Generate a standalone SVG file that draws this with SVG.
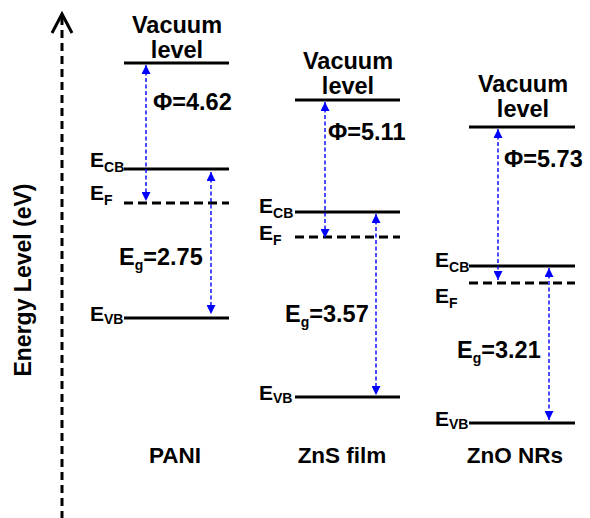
<svg xmlns="http://www.w3.org/2000/svg" width="590" height="518" viewBox="0 0 590 518">
<style>
text{font-family:"Liberation Sans",Arial,sans-serif;font-weight:bold;fill:#000}
.big{font-size:23.5px}
.name{font-size:22.5px}
.lbl{font-size:21px}
.sub{font-size:14px}
.lvl{stroke:#000;stroke-width:3;fill:none}
.fermi{stroke:#000;stroke-width:3;stroke-dasharray:9 5;fill:none}
.gap{stroke:#0000ff;stroke-width:1.4;stroke-dasharray:4 2.5;fill:none;marker-start:url(#ah);marker-end:url(#ah)}
.mid{text-anchor:middle}
</style>
<defs>
<marker id="ah" viewBox="0 0 10 10" refX="10" refY="5" markerWidth="9" markerHeight="9" markerUnits="userSpaceOnUse" orient="auto-start-reverse">
<path d="M0,0 L10,5 L0,10 Z" fill="#0000ff"/>
</marker>
</defs>

<g id="axis">
<line x1="62" y1="17" x2="62" y2="518" stroke="#000" stroke-width="3" stroke-dasharray="8 5"/>
<polyline points="52,33 62,14 72,33" fill="none" stroke="#000" stroke-width="3"/>
<text class="mid" font-size="23" transform="translate(31,280) rotate(-90)">Energy Level (eV)</text>
</g>

<g id="pani">
<text class="big mid" x="177" y="33">Vacuum<tspan x="177" dy="24.5">level</tspan></text>
<line class="lvl" x1="124" y1="63" x2="229" y2="63"/>
<line class="lvl" x1="124" y1="169" x2="229" y2="169"/>
<line class="fermi" x1="124" y1="203" x2="229" y2="203"/>
<line class="lvl" x1="124" y1="318" x2="229" y2="318"/>
<text class="big" x="153" y="110">Φ=4.62</text>
<text class="lbl" x="90" y="167">E<tspan class="sub" dy="5">CB</tspan></text>
<text class="lbl" x="90" y="200">E<tspan class="sub" dy="5">F</tspan></text>
<text class="big" x="119" y="265">E<tspan class="sub" dy="5">g</tspan><tspan dy="-5">=2.75</tspan></text>
<text class="lbl" x="90" y="321">E<tspan class="sub" dy="3">VB</tspan></text>
<text class="name mid" x="175" y="463">PANI</text>
</g>

<g id="zns">
<text class="big mid" x="348" y="69">Vacuum<tspan x="348" dy="24.5">level</tspan></text>
<line class="lvl" x1="295" y1="100" x2="400" y2="100"/>
<line class="lvl" x1="295" y1="212" x2="400" y2="212"/>
<line class="fermi" x1="295" y1="237" x2="400" y2="237"/>
<line class="lvl" x1="295" y1="397" x2="400" y2="397"/>
<text class="big" x="328" y="140">Φ=5.11</text>
<text class="lbl" x="259" y="213">E<tspan class="sub" dy="5">CB</tspan></text>
<text class="lbl" x="259" y="240">E<tspan class="sub" dy="5">F</tspan></text>
<text class="big" x="285" y="322">E<tspan class="sub" dy="5">g</tspan><tspan dy="-5">=3.57</tspan></text>
<text class="lbl" x="259" y="400">E<tspan class="sub" dy="3">VB</tspan></text>
<text class="name mid" x="342" y="463">ZnS film</text>
</g>

<g id="zno">
<text class="big mid" x="523" y="92">Vacuum<tspan x="523" dy="24.5">level</tspan></text>
<line class="lvl" x1="469" y1="127" x2="575" y2="127"/>
<line class="lvl" x1="469" y1="266" x2="575" y2="266"/>
<line class="fermi" x1="469" y1="283" x2="575" y2="283"/>
<line class="lvl" x1="469" y1="423" x2="575" y2="423"/>
<text class="big" x="504" y="167">Φ=5.73</text>
<text class="lbl" x="435" y="267">E<tspan class="sub" dy="5">CB</tspan></text>
<text class="lbl" x="435" y="303">E<tspan class="sub" dy="5">F</tspan></text>
<text class="big" x="457" y="358">E<tspan class="sub" dy="5">g</tspan><tspan dy="-5">=3.21</tspan></text>
<text class="lbl" x="435" y="426">E<tspan class="sub" dy="3">VB</tspan></text>
<text class="name mid" x="515" y="463">ZnO NRs</text>
</g>

<g id="connectors">
<line class="gap" x1="146" y1="65" x2="146" y2="201"/>
<line class="gap" x1="211" y1="172" x2="211" y2="314"/>
<line class="gap" x1="325" y1="102" x2="325" y2="238"/>
<line class="gap" x1="376" y1="214" x2="376" y2="395"/>
<line class="gap" x1="498" y1="129" x2="498" y2="280"/>
<line class="gap" x1="549" y1="268" x2="549" y2="420"/>
</g>
</svg>
